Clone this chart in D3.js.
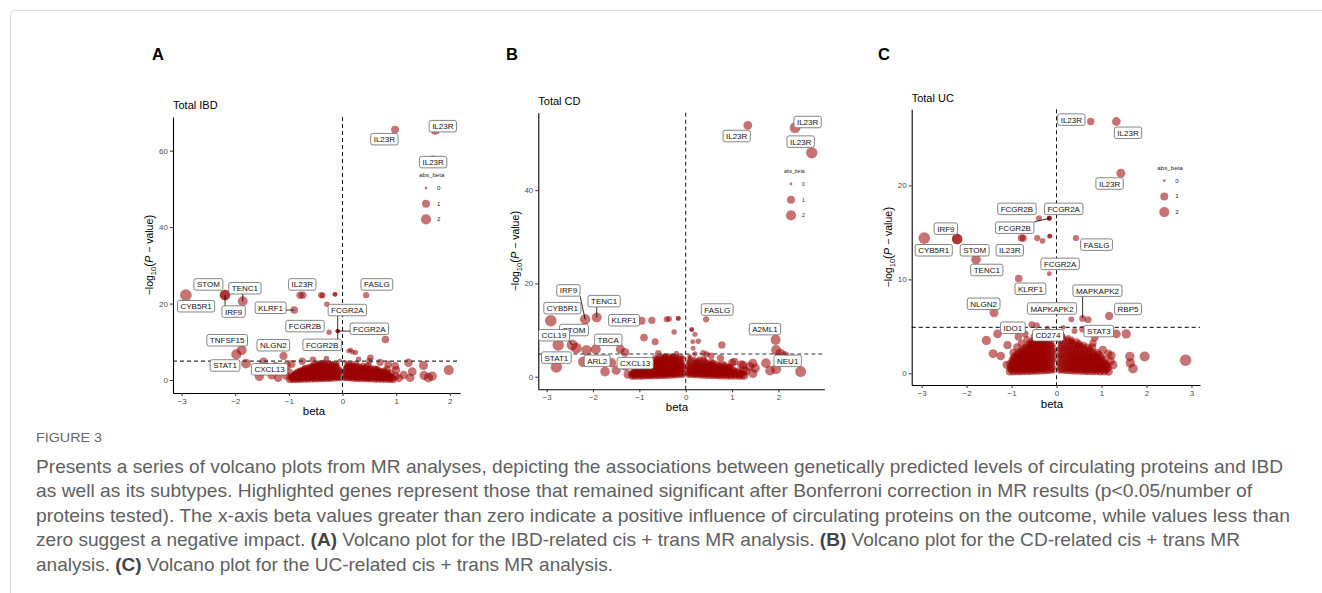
<!DOCTYPE html>
<html>
<head>
<meta charset="utf-8">
<script src="https://cdn.jsdelivr.net/npm/d3@7"></script>
<style>
  body { margin: 0; background: #fff; }
  svg text { font-family: "Liberation Sans", Arial, Helvetica, sans-serif; }
  .caption text { font-family: "Liberation Sans Narrow", "Liberation Sans", Arial, sans-serif; }
</style>
</head>
<body>
<svg id="fig" width="1322" height="593"></svg>
<script>
// ---------- Panel A : Total IBD ----------
var genesA   = ["IL23R","IL23R","IL23R","CYB5R1","STOM","IRF9","TENC1","KLRF1","IL23R","FASLG","FCGR2A","FCGR2A","FCGR2B","FCGR2B","TNFSF15","NLGN2","STAT1","CXCL13"];
var betaA    = [0.98, 1.73, 1.69, -2.92, -2.19, -2.19, -1.86, -0.90, -0.79, 0.44, -0.09, -0.09, -0.25, -0.09, -1.88, -1.10, -1.80, -1.47];
var logpA    = [65.5, 65.4, 57.5, 22.2, 22.3, 22.2, 20.6, 18.3, 22.2, 22.2, 12.8, 12.8, 12.5, 12.8, 7.8, 6.3, 4.3, 4.7];
// where the repelled label boxes sit (data units)
var labBetaA = [0.78, 1.87, 1.69, -2.73, -2.50, -2.03, -1.82, -1.34, -0.75, 0.64, 0.09, 0.50, -0.70, -0.38, -2.15, -1.29, -2.19, -1.36];
var labLogpA = [63.0, 66.4, 57.0, 19.3, 25.0, 17.9, 24.0, 18.9, 25.0, 25.0, 18.3, 13.4, 14.1, 9.2, 10.4, 9.1, 3.8, 2.8];
var segA     = [0,0,0,0,0,1,1,1,0,0,1,1,0,1,0,0,0,0];
// other proteins [beta, -log10 p]
var otherA = [
  [-0.74,22.2],[-0.40,22.2],[-0.37,22.1],[-0.14,22.4],[-0.14,22.4],[-0.29,19.8],[0.80,10.6],[-1.98,6.7],
  [0.11,7.6],[0.18,7.3],[0.15,7.9],[0.24,7.2],[0.52,5.8],
  [-1.32,1.3],[-1.04,3.7],[-1.00,2.0],[-0.88,1.0],[1.51,3.8],[1.98,2.6],[1.67,1.0],[1.52,1.2],[1.23,4.5],
  [1.26,0.6],[0.98,3.7],[0.99,1.0],[1.14,1.3],[0.83,2.8],[-1.55,0.9],[-1.20,0.6],[-1.12,2.3],[1.60,0.6],
  [1.30,2.2],[-1.25,3.6],
  [-0.90,0.8],[-0.85,1.5],[-0.78,2.2],[-0.70,3.0],[-0.60,2.7],[-0.55,3.6],[-0.45,4.1],[-0.34,4.6],
  [-0.28,3.5],[-0.20,4.2],[-0.12,3.8],[0.06,3.4],[0.14,4.0],[0.24,3.6],[0.36,3.1],[0.48,3.9],
  [0.63,2.8],[0.78,2.3],[0.90,1.8],[-0.95,4.2],[1.00,2.6],[1.05,0.5],[-1.05,1.1],
  [-0.55,5.3],[-0.30,5.6],[-0.05,5.1],[0.05,4.8],[0.30,5.4],[0.50,5.0],[-0.75,4.9],[0.70,4.6],[0.85,4.1]
];
// dense core, one entry per -log10 p level: [level, betas]
var coreA = [
  [0.2, [-0.98,-0.91,-0.84,-0.78,-0.71,-0.65,-0.58,-0.52,-0.46,-0.40,-0.35,-0.29,-0.24,-0.19,-0.14,-0.10,-0.06,-0.03,0.03,0.06,0.10,0.14,0.19,0.24,0.29,0.35,0.41,0.47,0.53,0.60,0.66,0.73,0.80,0.87,0.94]],
  [0.5, [-0.95,-0.88,-0.81,-0.75,-0.68,-0.62,-0.55,-0.49,-0.43,-0.38,-0.32,-0.27,-0.22,-0.17,-0.12,-0.08,0.01,0.05,0.09,0.13,0.17,0.22,0.27,0.32,0.38,0.44,0.50,0.57,0.64,0.71,0.78,0.85,0.92]],
  [0.8, [-0.93,-0.86,-0.79,-0.72,-0.66,-0.59,-0.53,-0.47,-0.41,-0.36,-0.30,-0.25,-0.20,-0.16,-0.12,-0.08,-0.04,0.04,0.08,0.12,0.16,0.21,0.26,0.31,0.37,0.43,0.49,0.56,0.62,0.69,0.76,0.83,0.90]],
  [1.1, [-0.90,-0.83,-0.76,-0.70,-0.63,-0.57,-0.51,-0.45,-0.39,-0.34,-0.28,-0.23,-0.18,-0.14,-0.10,-0.06,0.03,0.07,0.11,0.15,0.20,0.25,0.30,0.36,0.42,0.48,0.55,0.62,0.70,0.78,0.86]],
  [1.4, [-0.88,-0.81,-0.74,-0.67,-0.61,-0.55,-0.49,-0.43,-0.38,-0.32,-0.27,-0.22,-0.17,-0.13,-0.09,-0.05,0.02,0.06,0.10,0.14,0.19,0.24,0.29,0.35,0.41,0.47,0.54,0.61,0.68,0.76,0.84]],
  [1.7, [-0.86,-0.79,-0.72,-0.65,-0.58,-0.52,-0.46,-0.41,-0.35,-0.30,-0.25,-0.20,-0.15,-0.11,-0.07,-0.03,0.04,0.08,0.12,0.16,0.21,0.26,0.32,0.38,0.44,0.51,0.58,0.66,0.74,0.82]],
  [2.0, [-0.83,-0.76,-0.69,-0.62,-0.56,-0.50,-0.44,-0.39,-0.33,-0.28,-0.23,-0.18,-0.14,-0.10,-0.06,-0.02,0.05,0.09,0.13,0.18,0.23,0.28,0.34,0.40,0.46,0.53,0.60,0.68,0.77]],
  [2.3, [-0.79,-0.72,-0.65,-0.59,-0.53,-0.47,-0.41,-0.35,-0.30,-0.25,-0.20,-0.15,-0.11,-0.07,-0.02,0.04,0.10,0.15,0.20,0.26,0.32,0.38,0.45,0.52,0.60,0.70]],
  [2.6, [-0.74,-0.67,-0.60,-0.54,-0.48,-0.42,-0.36,-0.31,-0.26,-0.21,-0.16,-0.12,-0.08,-0.03,0.03,0.08,0.12,0.17,0.22,0.28,0.34,0.41,0.48,0.56,0.66]],
  [2.9, [-0.69,-0.62,-0.56,-0.50,-0.44,-0.38,-0.33,-0.28,-0.23,-0.18,-0.13,-0.09,-0.04,0.05,0.10,0.15,0.21,0.27,0.34,0.42,0.50,0.60]],
  [3.2, [-0.64,-0.57,-0.50,-0.44,-0.38,-0.32,-0.27,-0.21,-0.16,-0.11,-0.06,0.04,0.09,0.14,0.20,0.26,0.33,0.41,0.52]],
  [3.5, [-0.59,-0.52,-0.45,-0.39,-0.33,-0.27,-0.21,-0.15,-0.10,0.06,0.11,0.17,0.24,0.32,0.44]],
  [3.8, [-0.54,-0.46,-0.39,-0.33,-0.27,-0.21,-0.15,-0.09,0.07,0.13,0.20,0.28,0.38]],
  [4.1, [-0.48,-0.40,-0.33,-0.26,-0.19,-0.12,0.09,0.16,0.26]],
  [4.4, [-0.42,-0.34,-0.26,-0.18,-0.10,0.10,0.19]]
];
var xTicksA = [-3, -2, -1, 0, 1, 2];
var yTicksA = [0, 20, 40, 60];

// ---------- Panel B : Total CD ----------
var genesB   = ["IL23R","IL23R","IL23R","IRF9","CYB5R1","TENC1","KLRF1","STOM","CCL19","STAT1","TBCA","ARL2","CXCL13","FASLG","A2ML1","NEU1"];
var betaB    = [1.34, 2.36, 2.72, -2.17, -2.91, -1.92, -0.95, -2.36, -2.45, -2.79, -1.94, -2.21, -1.31, 0.44, 1.94, 2.04];
var logpB    = [53.9, 53.4, 48.0, 12.3, 12.0, 12.7, 12.0, 6.1, 6.8, 2.1, 5.9, 3.2, 5.2, 12.3, 7.9, 4.9];
var labBetaB = [1.10, 2.63, 2.48, -2.53, -2.66, -1.76, -1.33, -2.41, -2.84, -2.79, -1.67, -1.91, -1.09, 0.68, 1.71, 2.20];
var labLogpB = [51.6, 54.6, 50.4, 18.5, 14.7, 16.2, 12.1, 10.0, 8.9, 4.1, 7.9, 3.4, 2.9, 14.4, 10.2, 3.4];
var segB     = [0,0,0,1,0,1,0,0,1,0,0,0,0,0,0,0];
var otherB = [
  [-0.73,12.1],[-0.41,12.3],[-0.36,12.4],[-0.16,12.5],[-0.16,12.5],[-0.25,9.6],[-0.90,8.4],[-0.66,7.5],
  [-0.59,5.0],[-1.41,5.9],[-2.75,6.8],[-2.14,5.7],[0.13,10.1],[0.13,10.1],[0.15,7.5],[0.20,9.1],
  [0.27,7.6],[0.16,6.1],[0.38,5.1],[0.78,6.8],[1.95,5.7],[2.13,4.4],
  [-1.74,1.1],[-1.50,1.4],[-1.30,2.2],[-1.60,3.0],[-1.25,0.5],[1.73,2.9],[1.82,1.3],[1.95,1.6],
  [2.48,1.1],[1.24,2.5],[1.45,2.9],[1.30,1.2],[1.38,2.2],[1.45,0.7],[1.50,1.8],[1.20,2.6],[1.05,3.2],
  [0.55,4.5],[0.45,4.8],[-0.20,5.0],[0.20,4.9],[0.75,4.0],[1.00,3.0],
  [-1.15,0.6],[-1.10,1.8],[-1.05,2.9],[-0.86,3.4],[-0.66,3.9],[-0.46,4.2],[-0.28,4.4],[-0.02,4.0],
  [0.38,3.8],[0.23,3.2],[0.55,2.7],[0.92,1.9],[1.25,1.3]
];
var coreB = [
  [0.2, [-1.15,-1.08,-1.01,-0.94,-0.87,-0.80,-0.74,-0.67,-0.61,-0.55,-0.49,-0.43,-0.38,-0.32,-0.27,-0.22,-0.17,-0.12,-0.08,-0.04,0.04,0.08,0.12,0.17,0.22,0.28,0.34,0.40,0.46,0.53,0.60,0.67,0.74,0.82,0.90,0.98,1.07,1.16,1.26]],
  [0.5, [-1.12,-1.05,-0.98,-0.91,-0.84,-0.77,-0.71,-0.65,-0.58,-0.52,-0.46,-0.41,-0.35,-0.30,-0.25,-0.20,-0.15,-0.10,-0.05,0.05,0.10,0.15,0.20,0.26,0.32,0.38,0.44,0.51,0.58,0.65,0.72,0.80,0.88,0.97,1.06,1.16,1.22]],
  [0.8, [-1.10,-1.03,-0.96,-0.89,-0.82,-0.75,-0.69,-0.63,-0.57,-0.51,-0.45,-0.40,-0.34,-0.29,-0.24,-0.19,-0.14,-0.10,-0.06,0.03,0.07,0.11,0.15,0.20,0.25,0.31,0.37,0.43,0.50,0.57,0.64,0.71,0.79,0.87,0.96,1.05,1.15]],
  [1.1, [-1.07,-1.00,-0.93,-0.86,-0.79,-0.73,-0.67,-0.61,-0.55,-0.49,-0.43,-0.38,-0.32,-0.27,-0.22,-0.17,-0.12,-0.08,-0.04,0.04,0.08,0.13,0.18,0.23,0.28,0.34,0.40,0.47,0.54,0.61,0.68,0.76,0.84,0.93,1.03,1.12]],
  [1.4, [-1.05,-0.98,-0.91,-0.84,-0.77,-0.71,-0.65,-0.59,-0.53,-0.47,-0.42,-0.36,-0.31,-0.26,-0.21,-0.16,-0.12,-0.07,-0.03,0.05,0.09,0.14,0.19,0.24,0.30,0.36,0.42,0.49,0.56,0.63,0.71,0.80,0.90,1.02]],
  [1.7, [-1.00,-0.93,-0.86,-0.79,-0.72,-0.66,-0.60,-0.54,-0.48,-0.42,-0.37,-0.31,-0.26,-0.21,-0.16,-0.11,-0.06,0.03,0.07,0.12,0.17,0.22,0.28,0.34,0.41,0.48,0.55,0.63,0.72,0.82,0.93]],
  [2.0, [-0.95,-0.88,-0.81,-0.74,-0.68,-0.62,-0.56,-0.50,-0.44,-0.39,-0.33,-0.28,-0.23,-0.18,-0.13,-0.09,-0.04,0.04,0.08,0.13,0.18,0.24,0.30,0.37,0.44,0.52,0.61,0.71,0.82,0.95]],
  [2.3, [-0.90,-0.83,-0.76,-0.69,-0.63,-0.57,-0.51,-0.45,-0.39,-0.34,-0.28,-0.23,-0.18,-0.13,-0.08,-0.03,0.06,0.11,0.16,0.22,0.28,0.35,0.43,0.51,0.61,0.73,0.85]],
  [2.6, [-0.85,-0.78,-0.71,-0.64,-0.58,-0.52,-0.46,-0.40,-0.35,-0.29,-0.24,-0.19,-0.14,-0.09,-0.04,0.05,0.10,0.16,0.22,0.29,0.37,0.46,0.56,0.68,0.80]],
  [2.9, [-0.78,-0.71,-0.64,-0.57,-0.51,-0.45,-0.39,-0.33,-0.27,-0.22,-0.16,-0.11,-0.06,0.04,0.10,0.17,0.25,0.34,0.45,0.60]],
  [3.2, [-0.70,-0.63,-0.56,-0.49,-0.43,-0.37,-0.31,-0.25,-0.19,-0.13,-0.07,0.06,0.13,0.21,0.31,0.43,0.55]],
  [3.5, [-0.65,-0.58,-0.51,-0.44,-0.37,-0.31,-0.25,-0.19,-0.13,-0.07,0.07,0.15,0.26,0.40]],
  [3.8, [-0.60,-0.52,-0.44,-0.37,-0.30,-0.23,-0.16,-0.09,0.08,0.18,0.30]],
  [4.1, [-0.52,-0.44,-0.36,-0.29,-0.22,-0.15,-0.08,0.10]],
  [4.4, [-0.45,-0.36,-0.27,-0.18,-0.09,0.08]]
];
var xTicksB = [-3, -2, -1, 0, 1, 2];
var yTicksB = [0, 20, 40];

// ---------- Panel C : Total UC ----------
var genesC   = ["IL23R","IL23R","IL23R","FCGR2B","FCGR2A","FCGR2B","IRF9","CYB5R1","STOM","TENC1","IL23R","FASLG","FCGR2A","KLRF1","NLGN2","MAPKAPK2","MAPKAPK2","RBP5","STAT3","IDO1","CD274"];
var betaC    = [0.76, 1.33, 1.43, -0.39, -0.16, -0.16, -2.21, -2.94, -2.21, -1.79, -0.78, 0.43, -0.16, -0.84, -1.39, 0.58, 0.33, 1.17, 0.58, -0.70, -0.20];
var logpC    = [26.8, 26.8, 21.3, 16.5, 16.5, 16.5, 14.3, 14.4, 14.3, 12.1, 14.4, 14.4, 10.6, 10.1, 6.45, 5.85, 5.75, 6.1, 4.7, 4.2, 3.6];
var labBetaC = [0.33, 1.59, 1.18, -0.88, 0.16, -0.93, -2.46, -2.73, -1.82, -1.55, -1.04, 0.89, 0.08, -0.58, -1.62, 0.91, -0.10, 1.59, 0.94, -0.97, -0.19];
var labLogpC = [27.0, 25.6, 20.2, 17.5, 17.5, 15.5, 15.4, 13.1, 13.1, 11.0, 13.1, 13.7, 11.65, 9.0, 7.4, 8.8, 6.9, 6.85, 4.5, 4.85, 4.05];
var segC     = [0,0,0,0,0,1,0,0,0,0,0,0,0,0,0,1,0,0,0,0,0];
var otherC = [
  [-0.74,14.4],[-0.43,14.4],[-0.31,14.1],[-0.15,14.6],[-0.15,14.6],[-0.16,16.5],[0.70,5.7],[-0.55,5.2],
  [-0.44,5.1],[-1.31,4.2],[-1.56,3.5],[1.55,4.2],[1.33,4.2],[-1.09,3.0],
  [-1.24,1.85],[-1.41,2.1],[-1.11,0.9],[1.96,1.8],[2.87,1.4],[1.70,0.5],[1.64,1.1],[1.63,1.8],
  [1.26,0.9],[0.92,0.5],[1.22,1.9],[1.03,2.5],[0.81,3.2],[-0.85,3.9],[0.85,3.8],[-0.20,4.8],
  [0.15,4.9],[0.40,4.5],
  [-0.96,2.2],[-0.88,2.8],[-0.78,3.2],[-0.66,3.6],[-0.51,3.9],[-0.37,4.4],[-0.13,4.2],[0.14,4.0],
  [0.32,3.4],[0.47,3.0],[0.80,2.8],[1.15,2.1],[1.20,1.3],[1.10,0.9]
];
var coreC = [
  [0.2, [-1.04,-0.96,-0.88,-0.81,-0.74,-0.67,-0.60,-0.54,-0.48,-0.42,-0.36,-0.30,-0.25,-0.20,-0.15,-0.10,-0.06,0.06,0.10,0.15,0.20,0.26,0.32,0.38,0.44,0.51,0.58,0.65,0.72,0.80,0.88,0.97,1.06,1.16]],
  [0.4, [-1.00,-0.91,-0.83,-0.76,-0.69,-0.62,-0.56,-0.50,-0.44,-0.38,-0.33,-0.27,-0.22,-0.17,-0.12,-0.07,0.02,0.07,0.12,0.17,0.22,0.28,0.34,0.40,0.47,0.54,0.61,0.68,0.76,0.84,0.92,1.01,1.10]],
  [0.6, [-1.02,-0.94,-0.86,-0.79,-0.72,-0.65,-0.59,-0.53,-0.47,-0.41,-0.35,-0.29,-0.24,-0.19,-0.14,-0.09,-0.04,0.04,0.09,0.14,0.19,0.24,0.30,0.36,0.42,0.49,0.56,0.63,0.70,0.78,0.86,0.95,1.04,1.14]],
  [0.8, [-1.00,-0.92,-0.84,-0.77,-0.70,-0.63,-0.57,-0.51,-0.45,-0.39,-0.33,-0.28,-0.23,-0.18,-0.13,-0.08,0.05,0.10,0.15,0.21,0.27,0.33,0.39,0.46,0.53,0.60,0.67,0.75,0.83,0.92,1.01,1.11]],
  [1.0, [-1.03,-0.95,-0.87,-0.80,-0.73,-0.66,-0.60,-0.54,-0.48,-0.42,-0.36,-0.31,-0.26,-0.21,-0.16,-0.11,-0.07,0.03,0.07,0.12,0.17,0.22,0.28,0.34,0.40,0.47,0.54,0.61,0.69,0.77,0.86,0.96,1.07]],
  [1.2, [-0.97,-0.89,-0.82,-0.75,-0.68,-0.62,-0.56,-0.50,-0.44,-0.38,-0.33,-0.27,-0.22,-0.17,-0.12,-0.07,0.04,0.09,0.14,0.19,0.25,0.31,0.37,0.43,0.50,0.57,0.65,0.73,0.82,0.91,1.01]],
  [1.4, [-0.98,-0.90,-0.83,-0.76,-0.69,-0.63,-0.57,-0.51,-0.45,-0.39,-0.33,-0.28,-0.23,-0.18,-0.13,-0.08,-0.03,0.05,0.10,0.15,0.20,0.26,0.32,0.38,0.45,0.52,0.59,0.67,0.75,0.84,0.94,1.05]],
  [1.6, [-0.95,-0.87,-0.80,-0.73,-0.67,-0.61,-0.55,-0.49,-0.43,-0.37,-0.32,-0.26,-0.21,-0.16,-0.11,-0.06,0.06,0.11,0.16,0.22,0.28,0.34,0.41,0.48,0.55,0.63,0.71,0.80,0.90,1.00]],
  [1.8, [-0.93,-0.85,-0.78,-0.71,-0.65,-0.59,-0.53,-0.47,-0.41,-0.35,-0.30,-0.25,-0.20,-0.15,-0.10,-0.05,0.04,0.08,0.13,0.18,0.24,0.30,0.36,0.43,0.50,0.58,0.66,0.75,0.85,0.97]],
  [2.0, [-0.88,-0.81,-0.74,-0.67,-0.61,-0.55,-0.49,-0.43,-0.37,-0.32,-0.26,-0.21,-0.16,-0.11,-0.06,0.03,0.08,0.13,0.19,0.25,0.31,0.38,0.45,0.53,0.62,0.72,0.83,0.93]],
  [2.2, [-0.84,-0.77,-0.70,-0.63,-0.57,-0.51,-0.45,-0.39,-0.34,-0.28,-0.23,-0.18,-0.13,-0.08,-0.03,0.06,0.11,0.16,0.22,0.28,0.35,0.42,0.50,0.59,0.69,0.80,0.90]],
  [2.4, [-0.79,-0.72,-0.65,-0.59,-0.53,-0.47,-0.41,-0.36,-0.30,-0.25,-0.20,-0.15,-0.10,-0.05,0.05,0.10,0.16,0.22,0.29,0.36,0.44,0.53,0.63,0.75]],
  [2.6, [-0.74,-0.67,-0.60,-0.54,-0.48,-0.42,-0.36,-0.31,-0.25,-0.20,-0.15,-0.10,-0.05,0.04,0.09,0.14,0.20,0.27,0.34,0.42,0.51,0.61,0.73]],
  [2.8, [-0.69,-0.62,-0.56,-0.50,-0.44,-0.38,-0.33,-0.27,-0.22,-0.17,-0.12,-0.07,0.06,0.11,0.17,0.23,0.30,0.38,0.47,0.57,0.68]],
  [3.0, [-0.64,-0.57,-0.50,-0.44,-0.38,-0.32,-0.26,-0.21,-0.16,-0.11,-0.06,0.07,0.12,0.18,0.25,0.33,0.42,0.52,0.60]],
  [3.2, [-0.60,-0.53,-0.46,-0.40,-0.34,-0.28,-0.22,-0.16,-0.10,0.08,0.14,0.21,0.29,0.38,0.50]],
  [3.4, [-0.55,-0.48,-0.41,-0.35,-0.29,-0.23,-0.17,-0.11,0.05,0.11,0.18,0.26,0.35,0.45]],
  [3.6, [-0.50,-0.43,-0.36,-0.29,-0.22,-0.15,0.09,0.16,0.24,0.34]],
  [3.8, [-0.45,-0.38,-0.31,-0.24,-0.17,-0.10,0.08,0.16,0.26]],
  [4.0, [-0.40,-0.32,-0.24,-0.16,-0.08,0.14]],
  [4.2, [-0.34,-0.26,-0.18,-0.10,0.12]]
];
var xTicksC = [-3, -2, -1, 0, 1, 2, 3];
var yTicksC = [0, 10, 20];

var legendVals = [0, 1, 2];

// caption, one entry per printed line; [text, bold]
var captionHead = "FIGURE 3";
var captionLines = [
  [["Presents a series of volcano plots from MR analyses, depicting the associations between genetically predicted levels of circulating proteins and IBD", 0]],
  [["as well as its subtypes. Highlighted genes represent those that remained significant after Bonferroni correction in MR results (p<0.05/number of", 0]],
  [["proteins tested). The x-axis beta values greater than zero indicate a positive influence of circulating proteins on the outcome, while values less than", 0]],
  [["zero suggest a negative impact. ", 0], ["(A)", 1], [" Volcano plot for the IBD-related cis + trans MR analysis. ", 0], ["(B)", 1], [" Volcano plot for the CD-related cis + trans MR", 0]],
  [["analysis. ", 0], ["(C)", 1], [" Volcano plot for the UC-related cis + trans MR analysis.", 0]]
];
var captionWidths = [1247, 1216, 1254, 1204, 577];

var svg = d3.select("#fig");

// card frame
svg.append("rect")
  .attr("x", 10.5).attr("y", 10.5)
  .attr("width", 1400).attr("height", 700)
  .attr("rx", 4)
  .style("fill", "none").style("stroke", "#dcdcdc");

// point size ~ abs(beta), same for every panel
var rScale = d3.scaleSqrt().domain([0, 3]).range([1.4, 5.9]);

var panels = [
  {letter: "A", letterX: 152, title: "Total IBD", titleY: 108.5,
   left: 173, right: 460, top: 117, bottom: 393, xdom: [-3.16, 2.19], ydom: [-3.4, 68.8],
   xticks: xTicksA, yticks: yTicksA, thr: 4.95, ylabX: 153, betaX: 314, betaY: 415,
   legX: 426, legY: 175, legFont: 6.2,
   genes: genesA, beta: betaA, logp: logpA, lb: labBetaA, ll: labLogpA, seg: segA, other: otherA, core: coreA},
  {letter: "B", letterX: 506, title: "Total CD", titleY: 105,
   left: 538.3, right: 824.3, top: 112.7, bottom: 389.3, xdom: [-3.18, 2.99], ydom: [-2.7, 56.6],
   xticks: xTicksB, yticks: yTicksB, thr: 4.86, ylabX: 519, betaX: 677, betaY: 411,
   legX: 791, legY: 171, legFont: 5,
   genes: genesB, beta: betaB, logp: logpB, lb: labBetaB, ll: labLogpB, seg: segB, other: otherB, core: coreB},
  {letter: "C", letterX: 878, title: "Total UC", titleY: 102,
   left: 911.7, right: 1200, top: 109.3, bottom: 385, xdom: [-3.22, 3.19], ydom: [-1.24, 28.1],
   xticks: xTicksC, yticks: yTicksC, thr: 4.89, ylabX: 892, betaX: 1052, betaY: 407.5,
   legX: 1164.3, legY: 167.7, legFont: 6.2,
   genes: genesC, beta: betaC, logp: logpC, lb: labBetaC, ll: labLogpC, seg: segC, other: otherC, core: coreC}
];

function minusFmt(d) {
  return d < 0 ? "\u2212" + Math.abs(d) : String(d);
}

function drawPanel(p) {
  var x = d3.scaleLinear().domain(p.xdom).range([p.left, p.right]);
  var y = d3.scaleLinear().domain(p.ydom).range([p.bottom, p.top]);
  var g = svg.append("g");

  // letter + title
  svg.append("text").attr("x", p.letterX).attr("y", 60)
    .style("font-size", "16.5px").style("font-weight", "bold").text(p.letter);
  svg.append("text").attr("x", p.left).attr("y", p.titleY)
    .style("font-size", "11px").text(p.title);

  // points: core first, then the scattered ones, then the labelled genes
  var pts = [];
  p.core.forEach(function(row) {
    row[1].forEach(function(b) { pts.push({beta: b, logp: row[0]}); });
  });
  p.other.forEach(function(d) { pts.push({beta: d[0], logp: d[1]}); });
  p.genes.forEach(function(name, i) {
    pts.push({beta: p.beta[i], logp: p.logp[i]});
  });
  g.selectAll("circle.pt")
    .data(pts)
    .enter().append("circle")
      .attr("class", "pt")
      .attr("cx", function(d) { return x(d.beta); })
      .attr("cy", function(d) { return y(d.logp); })
      .attr("r", function(d) { return rScale(Math.abs(d.beta)); })
      .style("fill", "#9b0000")
      .style("fill-opacity", 0.55);

  // reference lines
  g.append("line")
    .attr("x1", x(0)).attr("x2", x(0)).attr("y1", p.top).attr("y2", p.bottom)
    .style("stroke", "#111").style("stroke-width", 1).style("stroke-dasharray", "4,3");
  g.append("line")
    .attr("x1", p.left).attr("x2", p.right).attr("y1", y(p.thr)).attr("y2", y(p.thr))
    .style("stroke", "#333").style("stroke-width", 1.1).style("stroke-dasharray", "4,3");

  // axes
  var xa = g.append("g")
    .attr("transform", "translate(0," + p.bottom + ")")
    .call(d3.axisBottom(x).tickValues(p.xticks).tickSize(3).tickSizeOuter(0).tickPadding(2).tickFormat(minusFmt));
  var ya = g.append("g")
    .attr("transform", "translate(" + p.left + ",0)")
    .call(d3.axisLeft(y).tickValues(p.yticks).tickSize(3).tickSizeOuter(0).tickPadding(2).tickFormat(minusFmt));
  [xa, ya].forEach(function(a) {
    a.select(".domain").style("stroke", "#000").style("stroke-width", 1.1);
    a.selectAll(".tick line").style("stroke", "#333");
    a.selectAll(".tick text").style("fill", "#4d4d4d").style("font-size", "8px")
      .style("font-family", "'Liberation Sans', Arial, sans-serif");
  });

  // axis titles
  svg.append("text").attr("x", p.betaX).attr("y", p.betaY)
    .attr("text-anchor", "middle").style("font-size", "11.5px").text("beta");
  var yl = svg.append("text")
    .attr("transform", "translate(" + p.ylabX + "," + ((p.top + p.bottom) / 2) + ") rotate(-90)")
    .attr("text-anchor", "middle").style("font-size", "10.5px");
  yl.append("tspan").text("\u2212log");
  yl.append("tspan").attr("dy", 3).style("font-size", "7.5px").text("10");
  yl.append("tspan").attr("dy", -3).style("font-size", "12px").text("(");
  yl.append("tspan").style("font-style", "italic").text("P");
  yl.append("tspan").text(" \u2212 value");
  yl.append("tspan").style("font-size", "12px").text(")");

  // gene labels (ggrepel style boxes)
  var lab = g.append("g");
  p.genes.forEach(function(name, i) {
    var cx = x(p.lb[i]), cy = y(p.ll[i]);
    var box = lab.append("g");
    var rect = box.append("rect");
    var t = box.append("text")
      .attr("x", cx).attr("y", cy + 3)
      .attr("text-anchor", "middle")
      .style("font-size", "8px").style("fill", "#111")
      .text(name);
    var w = t.node().getComputedTextLength() + 6, h = 11.5;
    rect.attr("x", cx - w / 2).attr("y", cy - h / 2)
      .attr("width", w).attr("height", h).attr("rx", 2)
      .style("fill", "#fff").style("stroke", "#666").style("stroke-width", 0.8);
    if (p.seg[i]) {
      var px = x(p.beta[i]), py = y(p.logp[i]);
      var ex = Math.max(cx - w / 2, Math.min(px, cx + w / 2));
      var ey = Math.max(cy - h / 2, Math.min(py, cy + h / 2));
      lab.insert("line", ":first-child")
        .attr("x1", px).attr("y1", py).attr("x2", ex).attr("y2", ey)
        .style("stroke", "#000").style("stroke-width", 0.8);
    }
  });

  // size legend
  var lg = svg.append("g");
  lg.append("text").attr("x", p.legX - 7).attr("y", p.legY + 2)
    .style("font-size", p.legFont + "px").style("fill", "#222").text("abs_beta");
  legendVals.forEach(function(v, i) {
    var cy = p.legY + 13 + i * 15.7;
    lg.append("circle").attr("cx", p.legX).attr("cy", cy).attr("r", rScale(v))
      .style("fill", "#9b0000").style("fill-opacity", 0.55);
    lg.append("text").attr("x", p.legX + 11).attr("y", cy + 2)
      .style("font-size", p.legFont + "px").style("fill", "#222").text(v);
  });
}

panels.forEach(drawPanel);

// caption
var cap = svg.append("g").attr("class", "caption");
cap.append("text").attr("x", 36).attr("y", 442)
  .attr("textLength", 66).attr("lengthAdjust", "spacingAndGlyphs")
  .style("font-size", "13px").style("fill", "#666").text(captionHead);
captionLines.forEach(function(line, i) {
  var t = cap.append("text")
    .attr("x", 36).attr("y", 473 + i * 24.4)
    .attr("textLength", captionWidths[i]).attr("lengthAdjust", "spacingAndGlyphs")
    .style("font-size", "19px").style("fill", "#606060");
  line.forEach(function(part) {
    t.append("tspan")
      .style("font-weight", part[1] ? "bold" : "normal")
      .style("fill", part[1] ? "#444" : "#606060")
      .text(part[0]);
  });
});
</script>
</body>
</html>
